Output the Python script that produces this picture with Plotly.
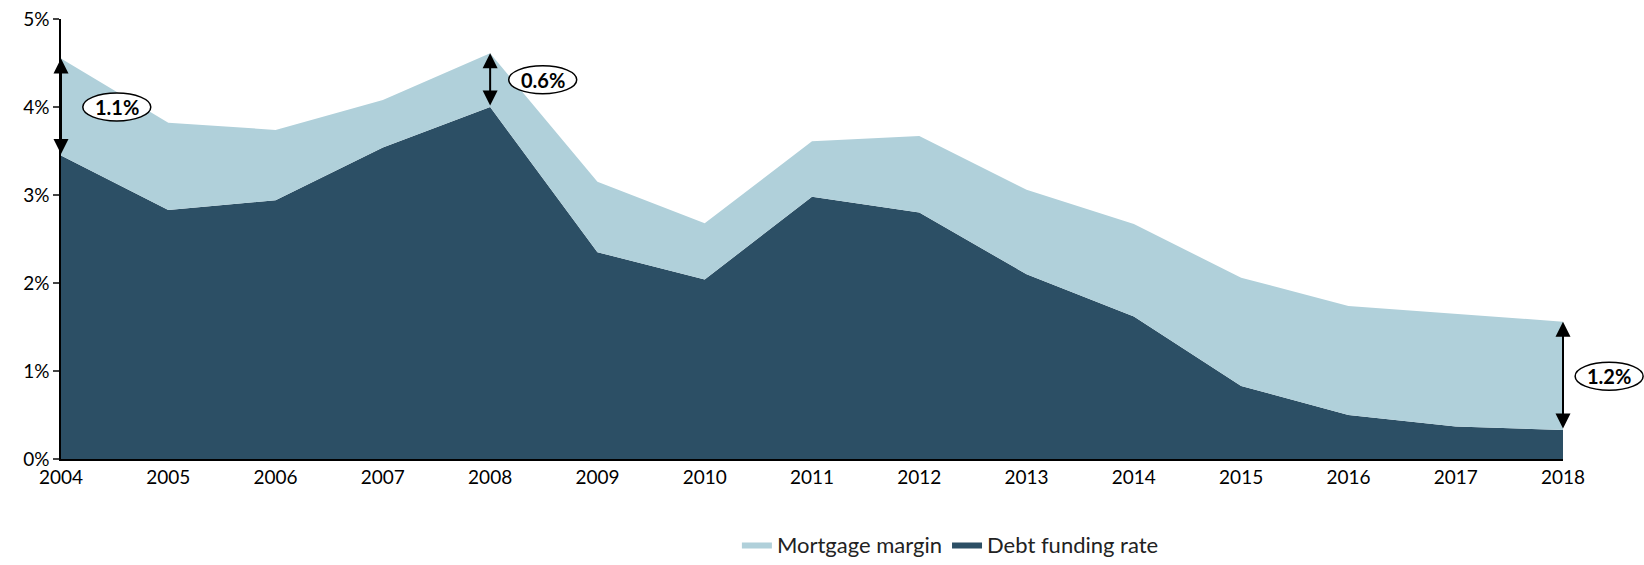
import plotly.graph_objects as go

years = list(range(2004, 2019))
total_rate = [4.55, 3.82, 3.74, 4.08, 4.61, 3.15, 2.68, 3.61, 3.67, 3.06, 2.67, 2.06, 1.74, 1.65, 1.56]
debt_funding = [3.45, 2.83, 2.94, 3.54, 4.00, 2.35, 2.04, 2.98, 2.80, 2.10, 1.62, 0.83, 0.50, 0.37, 0.33]
mortgage_margin = [round(t - d, 3) for t, d in zip(total_rate, debt_funding)]

y_ticks = [0, 1, 2, 3, 4, 5]
y_tick_labels = ["0%", "1%", "2%", "3%", "4%", "5%"]

# arrow annotations: year, label, label position
arrow_years = [2004, 2008, 2018]
arrow_labels = ["1.1%", "0.6%", "1.2%"]
label_x = [2004.52, 2008.49, 2018.43]
label_y = [4.0, 4.31, 0.94]

LIGHT = "#B0D0DA"
DARK = "#2C4F65"
FONT = "Lato, 'Open Sans', sans-serif"

fig = go.Figure()
fig.add_trace(go.Scatter(
    x=years, y=debt_funding, name="Debt funding rate", stackgroup="one",
    mode="lines", line=dict(width=0, color=DARK), fillcolor=DARK,
    legendrank=2,
))
fig.add_trace(go.Scatter(
    x=years, y=mortgage_margin, name="Mortgage margin", stackgroup="one",
    mode="lines", line=dict(width=0, color=LIGHT), fillcolor=LIGHT,
    legendrank=1,
))

x0, x1 = 2004, 2018
y0, y1 = 0, 5

annotations = []
shapes = []
for yr, lab, lx, ly in zip(arrow_years, arrow_labels, label_x, label_y):
    i = years.index(yr)
    annotations.append(dict(
        x=yr, y=total_rate[i], ax=yr, ay=debt_funding[i], xref="x", yref="y",
        axref="x", ayref="y", showarrow=True, arrowhead=2, startarrowhead=2,
        arrowside="end+start", arrowsize=1.5, startarrowsize=1.5, arrowwidth=2,
        arrowcolor="black", standoff=0, startstandoff=0, text="",
    ))
    px = (lx - x0) / (x1 - x0)
    py = (ly - y0) / (y1 - y0)
    annotations.append(dict(
        x=px, y=py, xref="paper", yref="paper", xanchor="center", yanchor="middle",
        showarrow=False, text="<b>" + lab + "</b>",
        font=dict(family=FONT, size=20, color="black"),
    ))
    shapes.append(dict(
        type="circle", xref="paper", yref="paper", xsizemode="pixel", ysizemode="pixel",
        xanchor=px, yanchor=py, x0=-34, x1=34, y0=-14, y1=14,
        line=dict(color="black", width=1.5), fillcolor="white", layer="above",
    ))

fig.update_layout(
    width=1644, height=565,
    margin=dict(l=61, r=81, t=19, b=106, autoexpand=False),
    paper_bgcolor="white", plot_bgcolor="white",
    font=dict(family=FONT, size=19, color="black"),
    showlegend=True,
    legend=dict(orientation="h", x=0.45, xanchor="left", y=-0.195, yanchor="middle",
                font=dict(size=22, color="#222"), traceorder="normal",
                itemwidth=30),
    xaxis=dict(range=[x0, x1], tickmode="array", tickvals=years,
               ticktext=[str(y) for y in years], showgrid=False, zeroline=False,
               showline=True, linecolor="black", linewidth=1.5, ticks="",
               tickfont=dict(size=19)),
    yaxis=dict(range=[y0, y1], tickmode="array", tickvals=y_ticks, ticktext=y_tick_labels,
               showgrid=False, zeroline=False, showline=True, linecolor="black",
               linewidth=1.5, ticks="outside", ticklen=6, tickwidth=1.5,
               tickfont=dict(size=19)),
    annotations=annotations,
    shapes=shapes,
)

fig.write_html(
    "out.html",
    config={"displayModeBar": False},
    post_script="document.body.style.margin='0';document.body.style.overflow='hidden';",
)
